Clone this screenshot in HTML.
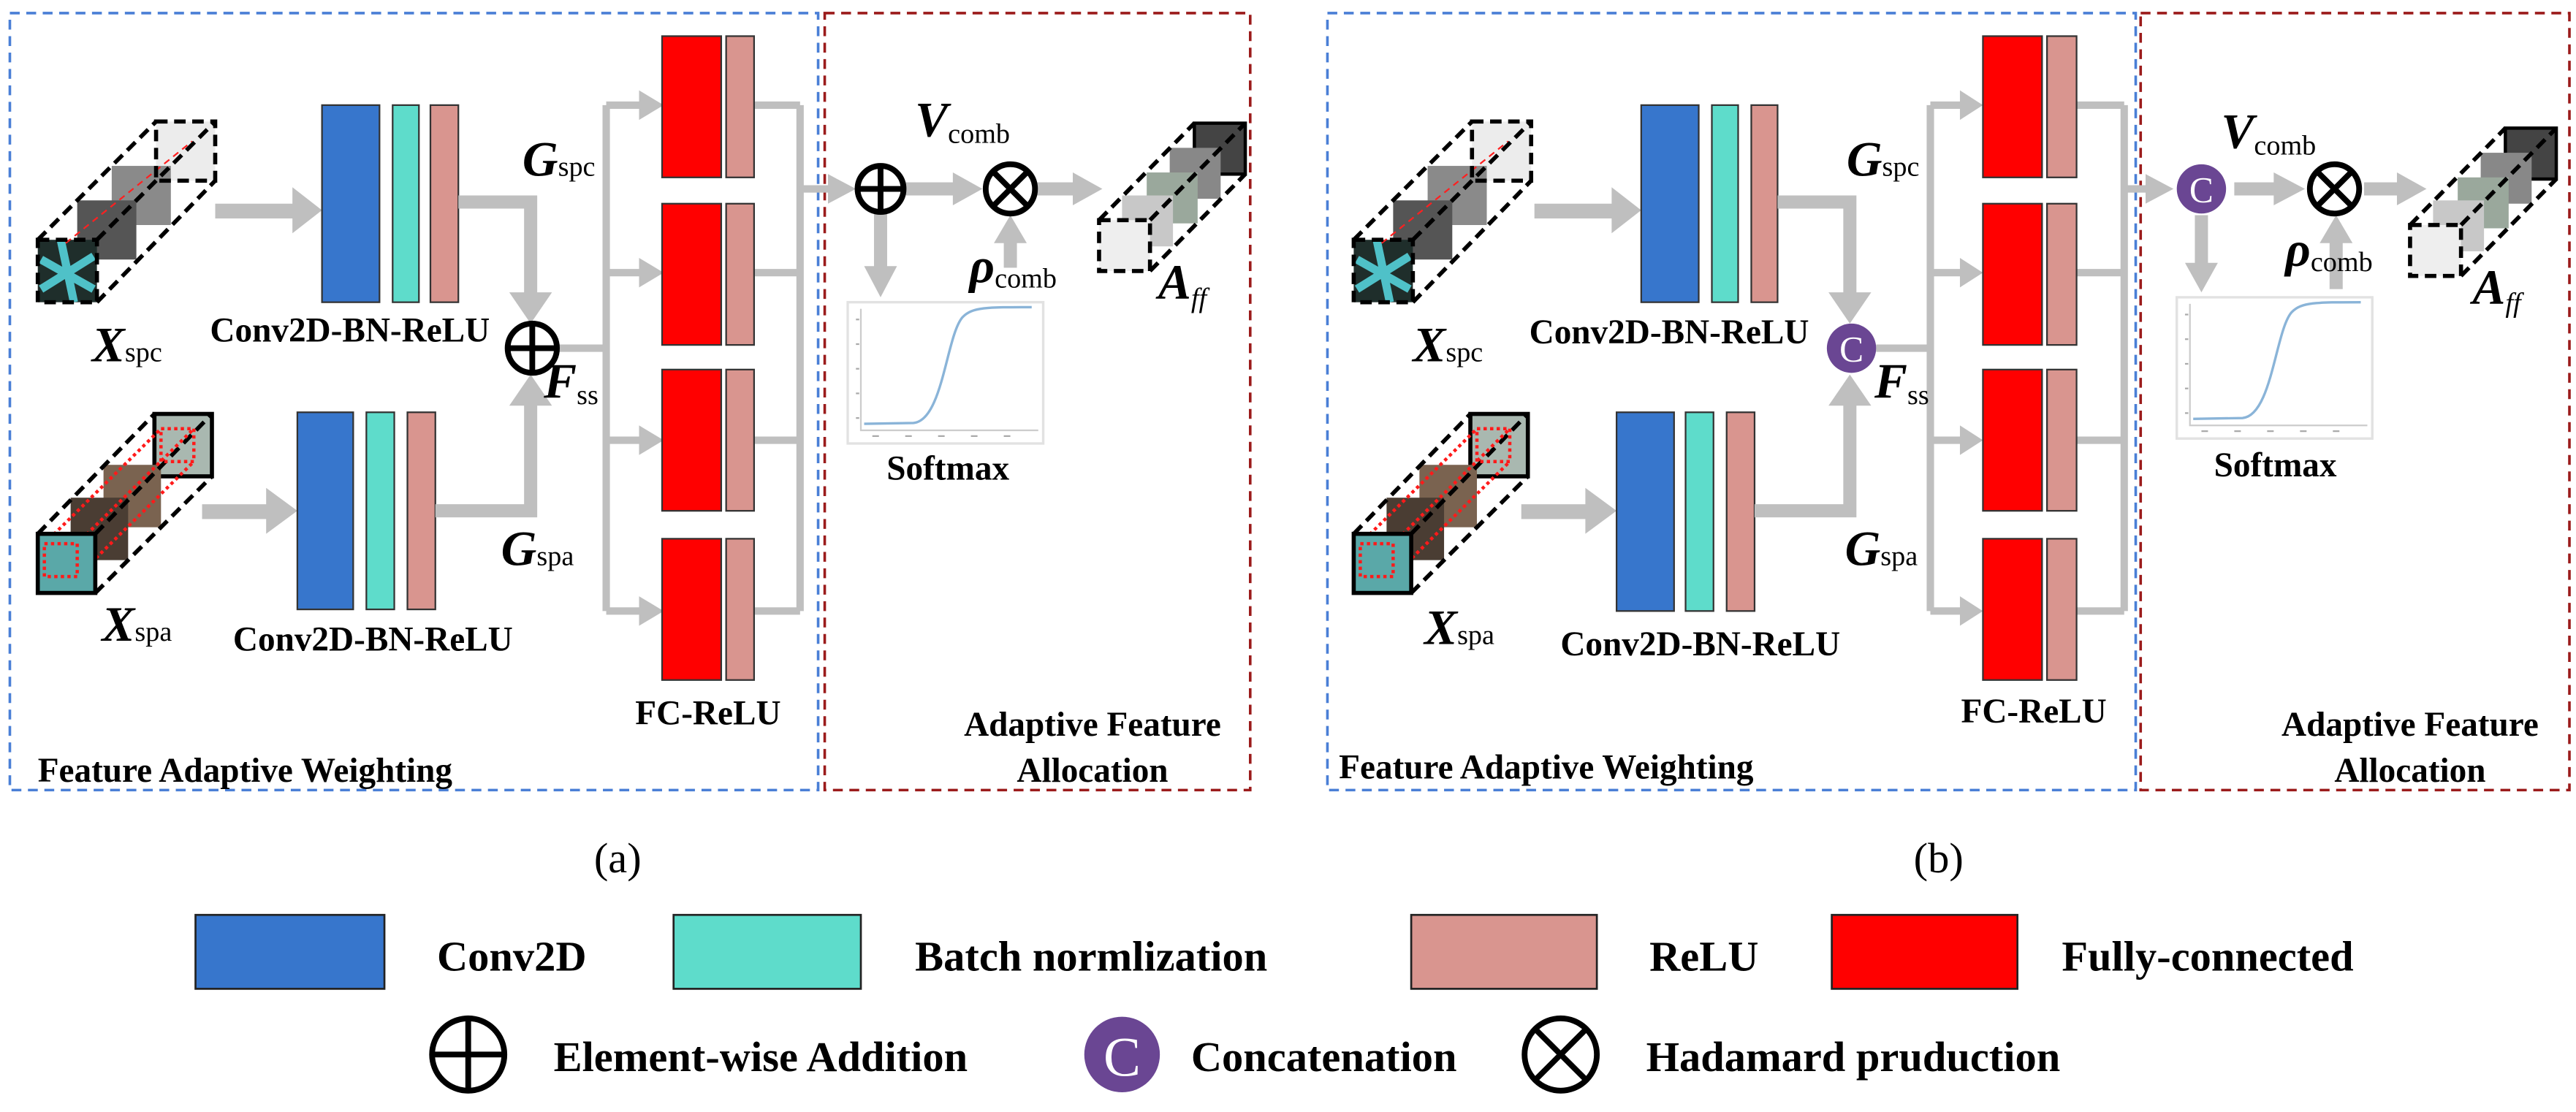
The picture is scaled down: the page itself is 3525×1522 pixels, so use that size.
<!DOCTYPE html>
<html><head><meta charset="utf-8">
<style>
html,body{margin:0;padding:0;background:#fff;}
svg{display:block;font-family:"Liberation Serif","DejaVu Serif",serif;}
svg text{font-family:"Liberation Serif","DejaVu Serif",serif;font-weight:bold;fill:#000;}
.n{font-weight:normal;}
</style></head>
<body>
<svg width="3525" height="1522" viewBox="0 0 1568 677" preserveAspectRatio="none" xmlns="http://www.w3.org/2000/svg" font-family="Liberation Serif, DejaVu Serif, serif">
<defs>
  <g id="cubeTop">
    <rect x="72" y="2" width="36" height="36" fill="#ececec"/>
    <rect x="45" y="29" width="36" height="36" fill="#8a8a8a"/>
    <rect x="24" y="50" width="36" height="36" fill="#555"/>
    <rect x="0" y="74" width="36" height="38" fill="#1f2e2b"/>
    <path d="M2,86 L34,104 M2,104 L34,84 M14,74 L22,112" stroke="#4fc1c8" stroke-width="5"/>
    <line x1="17" y1="76" x2="94" y2="14" stroke="#ff2020" stroke-width="1" stroke-dasharray="4,3"/>
    <g fill="none" stroke="#000" stroke-width="2.5" stroke-dasharray="7,4">
      <rect x="72" y="2" width="36" height="36"/>
      <rect x="0" y="74" width="36" height="38"/>
      <line x1="0" y1="74" x2="72" y2="2"/>
      <line x1="36" y1="74" x2="108" y2="2"/>
      <line x1="36" y1="112" x2="108" y2="38"/>
    </g>
  </g>
  <g id="cubeBot">
    <rect x="71" y="1" width="35" height="38" fill="#a9b8b0" stroke="#000" stroke-width="2.5"/>
    <rect x="40" y="32" width="35" height="38" fill="#7a6350"/>
    <rect x="20" y="52" width="35" height="38" fill="#4a3d33"/>
    <g fill="none" stroke="#000" stroke-width="2.5" stroke-dasharray="7,4">
      <line x1="0" y1="74" x2="71" y2="1"/>
      <line x1="35" y1="74" x2="106" y2="1"/>
      <line x1="35" y1="110" x2="106" y2="39"/>
    </g>
    <g fill="none" stroke="#ff1a1a" stroke-width="2" stroke-dasharray="2,2">
      <rect x="75" y="10" width="20" height="20"/>
      <line x1="4" y1="80" x2="75" y2="10"/>
      <line x1="24" y1="100" x2="95" y2="30"/>
      <line x1="24" y1="80" x2="95" y2="10"/>
    </g>
    <rect x="0" y="74" width="35" height="36" fill="#5aa8a8" stroke="#000" stroke-width="2.5"/>
    <rect x="4" y="80" width="20" height="20" fill="none" stroke="#ff1a1a" stroke-width="2" stroke-dasharray="2,2"/>
  </g>
  <g id="cubeOut">
    <rect x="58" y="0" width="31" height="31" fill="#444" stroke="#000" stroke-width="2"/>
    <rect x="43" y="15" width="31" height="31" fill="#888"/>
    <rect x="29" y="30" width="31" height="31" fill="#9aa89c"/>
    <rect x="14" y="44" width="31" height="31" fill="#c8c8c8"/>
    <rect x="0" y="59" width="31" height="31" fill="#eee"/>
    <g fill="none" stroke="#000" stroke-width="2.5" stroke-dasharray="7,4">
      <rect x="0" y="59" width="31" height="31"/>
      <line x1="0" y1="59" x2="58" y2="0"/>
      <line x1="31" y1="59" x2="89" y2="0"/>
      <line x1="31" y1="90" x2="89" y2="31"/>
    </g>
  </g>
  <g id="soft">
    <rect x="0" y="0" width="119" height="86" fill="#fff" stroke="#e2e2e2" stroke-width="1.5"/>
    <path d="M8,4 L8,78 L116,78" fill="none" stroke="#ccc" stroke-width="1"/>
    <path d="M10,74 L40,73.5 C58,72 60,20 70,9 C76,3 84,3 112,3" fill="none" stroke="#8ab4d8" stroke-width="1.5"/>
    <g fill="#aaa">
      <rect x="5" y="10" width="2" height="1"/><rect x="5" y="25" width="2" height="1"/><rect x="5" y="40" width="2" height="1"/><rect x="5" y="55" width="2" height="1"/><rect x="5" y="70" width="2" height="1"/>
      <rect x="15" y="81" width="4" height="1"/><rect x="35" y="81" width="4" height="1"/><rect x="55" y="81" width="4" height="1"/><rect x="75" y="81" width="4" height="1"/><rect x="95" y="81" width="4" height="1"/>
    </g>
  </g>
</defs>

<!-- ================= PANEL A ================= -->
<rect x="6" y="8" width="492" height="473" fill="none" stroke="#4a7fd6" stroke-width="1.6" stroke-dasharray="6,4"/>
<rect x="502" y="8" width="259" height="473" fill="none" stroke="#9b1b1b" stroke-width="1.6" stroke-dasharray="6,4"/>

<use href="#cubeTop" transform="translate(23,72)"/>
<use href="#cubeBot" transform="translate(23,251)"/>

<g fill="#bfbfbf" stroke="none">
  <rect x="131" y="124" width="50" height="9"/><polygon points="178,114 196,128 178,142"/>
  <rect x="123" y="307" width="42" height="9"/><polygon points="162,297 181,311 162,325"/>
</g>
<g stroke="#333" stroke-width="1">
  <rect x="196" y="64" width="35" height="120" fill="#3776cc"/>
  <rect x="239" y="64" width="16" height="120" fill="#5edccb"/>
  <rect x="262" y="64" width="17" height="120" fill="#d9958f"/>
  <rect x="181" y="251" width="34" height="120" fill="#3776cc"/>
  <rect x="223" y="251" width="17" height="120" fill="#5edccb"/>
  <rect x="248" y="251" width="17" height="120" fill="#d9958f"/>
</g>
<g fill="none" stroke="#bfbfbf" stroke-width="8">
  <polyline points="279,123 323,123 323,180"/>
  <polyline points="265,311 323,311 323,245"/>
</g>
<g fill="#bfbfbf">
  <polygon points="310,178 323,197 336,178"/>
  <polygon points="310,247 323,228 336,247"/>
</g>
<g fill="none" stroke="#bfbfbf" stroke-width="4.5">
  <line x1="339" y1="212" x2="369" y2="212"/>
  <line x1="369" y1="64" x2="369" y2="372"/>
  <line x1="369" y1="64" x2="391" y2="64"/><line x1="369" y1="166" x2="391" y2="166"/>
  <line x1="369" y1="268" x2="391" y2="268"/><line x1="369" y1="372" x2="391" y2="372"/>
  <line x1="459" y1="64" x2="487" y2="64"/><line x1="459" y1="166" x2="487" y2="166"/>
  <line x1="459" y1="268" x2="487" y2="268"/><line x1="459" y1="372" x2="487" y2="372"/>
  <line x1="487" y1="64" x2="487" y2="372"/>
  <line x1="487" y1="115" x2="506" y2="115"/>
</g>
<g fill="#bfbfbf">
  <polygon points="389,55 404,64 389,73"/><polygon points="389,157 404,166 389,175"/>
  <polygon points="389,259 404,268 389,277"/><polygon points="389,363 404,372 389,381"/>
  <polygon points="504,106 521,115 504,124"/>
</g>
<g stroke="#333" stroke-width="1">
  <rect x="403" y="22" width="36" height="86" fill="#ff0000"/><rect x="442" y="22" width="17" height="86" fill="#d9958f"/>
  <rect x="403" y="124" width="36" height="86" fill="#ff0000"/><rect x="442" y="124" width="17" height="86" fill="#d9958f"/>
  <rect x="403" y="225" width="36" height="86" fill="#ff0000"/><rect x="442" y="225" width="17" height="86" fill="#d9958f"/>
  <rect x="403" y="328" width="36" height="86" fill="#ff0000"/><rect x="442" y="328" width="17" height="86" fill="#d9958f"/>
</g>
<g fill="#fff" stroke="#000" stroke-width="3.5">
  <circle cx="324" cy="212" r="15"/>
  <line x1="309" y1="212" x2="339" y2="212"/><line x1="324" y1="197" x2="324" y2="227"/>
</g>
<g fill="#bfbfbf">
  <rect x="551" y="111" width="31" height="8"/><polygon points="580,105 598,115 580,125"/>
  <rect x="630" y="111" width="25" height="8"/><polygon points="653,105 671,115 653,125"/>
  <rect x="532" y="130" width="8" height="34"/><polygon points="526,162 536,181 546,162"/>
  <rect x="611" y="146" width="8" height="17"/><polygon points="605,148 615,131 625,148"/>
</g>
<g fill="#fff" stroke="#000" stroke-width="3.5">
  <circle cx="536" cy="115" r="14"/>
  <line x1="522" y1="115" x2="550" y2="115"/><line x1="536" y1="101" x2="536" y2="129"/>
  <circle cx="615" cy="115" r="15"/>
  <line x1="604.4" y1="104.4" x2="625.6" y2="125.6"/><line x1="625.6" y1="104.4" x2="604.4" y2="125.6"/>
</g>
<use href="#soft" transform="translate(516,184)"/>
<use href="#cubeOut" transform="translate(669,75)"/>

<g font-size="21">
  <text x="213" y="208" text-anchor="middle">Conv2D-BN-ReLU</text>
  <text x="227" y="396" text-anchor="middle">Conv2D-BN-ReLU</text>
  <text x="431" y="441" text-anchor="middle">FC-ReLU</text>
  <text x="577" y="292" text-anchor="middle">Softmax</text>
  <text x="23" y="476">Feature Adaptive Weighting</text>
  <text x="665" y="448" text-anchor="middle">Adaptive Feature</text>
  <text x="665" y="476" text-anchor="middle">Allocation</text>
</g>
<g font-size="30" font-style="italic">
  <text x="56" y="220">X<tspan class="n" font-style="normal" font-size="17">spc</tspan></text>
  <text x="62" y="390">X<tspan class="n" font-style="normal" font-size="17">spa</tspan></text>
  <text x="318" y="107">G<tspan class="n" font-style="normal" font-size="17">spc</tspan></text>
  <text x="305" y="344">G<tspan class="n" font-style="normal" font-size="17">spa</tspan></text>
  <text x="331" y="242">F<tspan class="n" font-style="normal" font-size="17" dy="4">ss</tspan></text>
  <text x="557" y="83">V<tspan class="n" font-style="normal" font-size="17" dy="4">comb</tspan></text>
  <text x="590" y="172">ρ<tspan class="n" font-style="normal" font-size="17" dy="3">comb</tspan></text>
  <text x="705" y="182">A<tspan class="n" font-size="17" dy="5">ff</tspan></text>
</g>

<!-- ================= PANEL B ================= -->
<rect x="808" y="8" width="492" height="473" fill="none" stroke="#4a7fd6" stroke-width="1.6" stroke-dasharray="6,4"/>
<rect x="1303" y="8" width="261" height="473" fill="none" stroke="#9b1b1b" stroke-width="1.6" stroke-dasharray="6,4"/>

<use href="#cubeTop" transform="translate(824,72)"/>
<use href="#cubeBot" transform="translate(824,251)"/>
<g transform="translate(803,0)">
<g fill="#bfbfbf" stroke="none">
  <rect x="131" y="124" width="50" height="9"/><polygon points="178,114 196,128 178,142"/>
  <rect x="123" y="307" width="42" height="9"/><polygon points="162,297 181,311 162,325"/>
</g>
<g stroke="#333" stroke-width="1">
  <rect x="196" y="64" width="35" height="120" fill="#3776cc"/>
  <rect x="239" y="64" width="16" height="120" fill="#5edccb"/>
  <rect x="263" y="64" width="16" height="120" fill="#d9958f"/>
  <rect x="181" y="251" width="35" height="121" fill="#3776cc"/>
  <rect x="223" y="251" width="17" height="121" fill="#5edccb"/>
  <rect x="248" y="251" width="17" height="121" fill="#d9958f"/>
</g>
<g fill="none" stroke="#bfbfbf" stroke-width="8">
  <polyline points="279,123 323,123 323,180"/>
  <polyline points="265,311 323,311 323,245"/>
</g>
<g fill="#bfbfbf">
  <polygon points="310,178 323,197 336,178"/>
  <polygon points="310,247 323,228 336,247"/>
</g>
<g fill="none" stroke="#bfbfbf" stroke-width="4.5">
  <line x1="339" y1="212" x2="372" y2="212"/>
  <line x1="372" y1="64" x2="372" y2="372"/>
  <line x1="372" y1="64" x2="391" y2="64"/><line x1="372" y1="166" x2="391" y2="166"/>
  <line x1="372" y1="268" x2="391" y2="268"/><line x1="372" y1="372" x2="391" y2="372"/>
  <line x1="461" y1="64" x2="490" y2="64"/><line x1="461" y1="166" x2="490" y2="166"/>
  <line x1="461" y1="268" x2="490" y2="268"/><line x1="461" y1="372" x2="490" y2="372"/>
  <line x1="490" y1="64" x2="490" y2="372"/>
  <line x1="490" y1="115" x2="505" y2="115"/>
</g>
<g fill="#bfbfbf">
  <polygon points="390,55 404,64 390,73"/><polygon points="390,157 404,166 390,175"/>
  <polygon points="390,259 404,268 390,277"/><polygon points="390,363 404,372 390,381"/>
  <polygon points="503,106 520,115 503,124"/>
</g>
<g stroke="#333" stroke-width="1">
  <rect x="404" y="22" width="36" height="86" fill="#ff0000"/><rect x="443" y="22" width="18" height="86" fill="#d9958f"/>
  <rect x="404" y="124" width="36" height="86" fill="#ff0000"/><rect x="443" y="124" width="18" height="86" fill="#d9958f"/>
  <rect x="404" y="225" width="36" height="86" fill="#ff0000"/><rect x="443" y="225" width="18" height="86" fill="#d9958f"/>
  <rect x="404" y="328" width="36" height="86" fill="#ff0000"/><rect x="443" y="328" width="18" height="86" fill="#d9958f"/>
</g>
<circle cx="324" cy="212" r="15" fill="#6a4693"/>
<text x="324" y="220" font-size="22" text-anchor="middle" class="n" style="fill:#fff">C</text>
<g fill="#bfbfbf">
  <rect x="557" y="111" width="26" height="8"/><polygon points="581,105 600,115 581,125"/>
  <rect x="636" y="111" width="22" height="8"/><polygon points="656,105 674,115 656,125"/>
  <rect x="533" y="131" width="8" height="31"/><polygon points="527,160 537,178 547,160"/>
  <rect x="615" y="146" width="8" height="30"/><polygon points="609,148 619,131 629,148"/>
</g>
<circle cx="537" cy="115" r="15" fill="#6a4693"/>
<text x="537" y="123" font-size="22" text-anchor="middle" class="n" style="fill:#fff">C</text>
<g fill="#fff" stroke="#000" stroke-width="3.5">
  <circle cx="618" cy="115" r="15"/>
  <line x1="607.4" y1="104.4" x2="628.6" y2="125.6"/><line x1="628.6" y1="104.4" x2="607.4" y2="125.6"/>
</g>
<use href="#soft" transform="translate(522,181)"/>
<use href="#cubeOut" transform="translate(664,78)"/>
<g font-size="21">
  <text x="213" y="209" text-anchor="middle">Conv2D-BN-ReLU</text>
  <text x="232" y="399" text-anchor="middle">Conv2D-BN-ReLU</text>
  <text x="435" y="440" text-anchor="middle">FC-ReLU</text>
  <text x="582" y="290" text-anchor="middle">Softmax</text>
  <text x="12" y="474">Feature Adaptive Weighting</text>
  <text x="664" y="448" text-anchor="middle">Adaptive Feature</text>
  <text x="664" y="476" text-anchor="middle">Allocation</text>
</g>
<g font-size="30" font-style="italic">
  <text x="57" y="220">X<tspan class="n" font-style="normal" font-size="17">spc</tspan></text>
  <text x="64" y="392">X<tspan class="n" font-style="normal" font-size="17">spa</tspan></text>
  <text x="321" y="107">G<tspan class="n" font-style="normal" font-size="17">spc</tspan></text>
  <text x="320" y="344">G<tspan class="n" font-style="normal" font-size="17">spa</tspan></text>
  <text x="338" y="242">F<tspan class="n" font-style="normal" font-size="17" dy="4">ss</tspan></text>
  <text x="549" y="90">V<tspan class="n" font-style="normal" font-size="17" dy="4">comb</tspan></text>
  <text x="588" y="162">ρ<tspan class="n" font-style="normal" font-size="17" dy="3">comb</tspan></text>
  <text x="702" y="185">A<tspan class="n" font-size="17" dy="5">ff</tspan></text>
</g>
</g>

<text x="376" y="531" font-size="26" class="n" text-anchor="middle">(a)</text>
<text x="1180" y="531" font-size="26" class="n" text-anchor="middle">(b)</text>

<g stroke="#222" stroke-width="1.2">
  <rect x="119" y="557" width="115" height="45" fill="#3776cc"/>
  <rect x="410" y="557" width="114" height="45" fill="#5edccb"/>
  <rect x="859" y="557" width="113" height="45" fill="#d9958f"/>
  <rect x="1115" y="557" width="113" height="45" fill="#ff0000"/>
</g>
<g font-size="26">
  <text x="266" y="591">Conv2D</text>
  <text x="557" y="591">Batch normlization</text>
  <text x="1004" y="591">ReLU</text>
  <text x="1255" y="591">Fully-connected</text>
  <text x="337" y="652">Element-wise Addition</text>
  <text x="725" y="652">Concatenation</text>
  <text x="1002" y="652">Hadamard pruduction</text>
</g>
<g fill="#fff" stroke="#000" stroke-width="3.5">
  <circle cx="285" cy="642" r="22"/>
  <line x1="263" y1="642" x2="307" y2="642"/><line x1="285" y1="620" x2="285" y2="664"/>
  <circle cx="950" cy="642" r="22"/>
  <line x1="934.4" y1="626.4" x2="965.6" y2="657.6"/><line x1="965.6" y1="626.4" x2="934.4" y2="657.6"/>
</g>
<circle cx="683" cy="642" r="23" fill="#6a4693"/>
<text x="683" y="655" font-size="34" text-anchor="middle" class="n" style="fill:#fff">C</text>
</svg>
</body></html>
